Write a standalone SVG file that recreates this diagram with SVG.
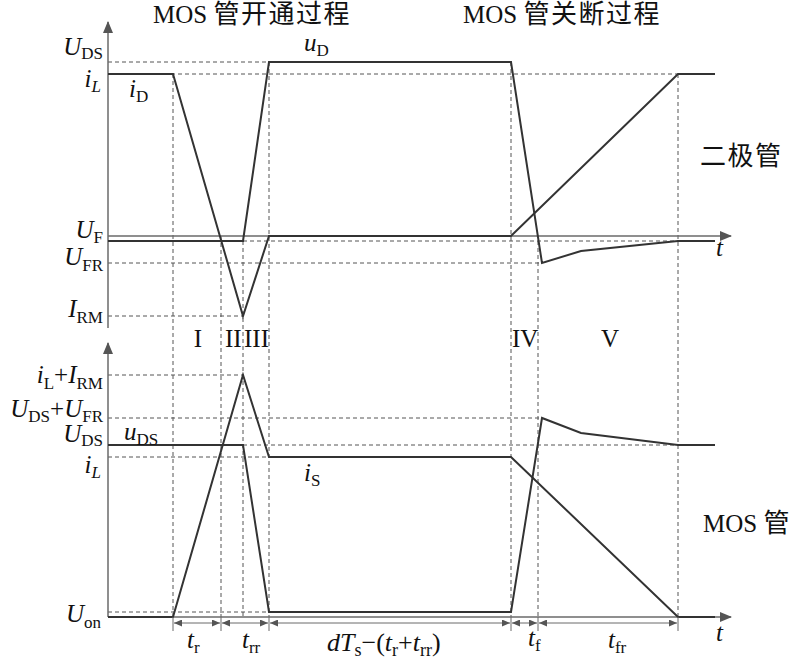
<svg xmlns="http://www.w3.org/2000/svg" width="800" height="669" viewBox="0 0 800 669">
<style>
.curve{fill:none;stroke:#333;stroke-width:2;stroke-linejoin:miter}
.axis{fill:none;stroke:#6a6a6a;stroke-width:1.5}
.dash{fill:none;stroke:#555;stroke-width:1;stroke-dasharray:4 3}
.tick{fill:none;stroke:#6a6a6a;stroke-width:1}
.dim{fill:none;stroke:#6a6a6a;stroke-width:1}
.lbl{font-family:"Liberation Serif","Noto Sans CJK SC",serif;font-size:25px;fill:#111}
.it{font-style:italic}
.sub{font-size:17px;font-style:normal}
.cjk{font-family:"Liberation Serif","Noto Sans CJK SC",sans-serif;font-size:25px;fill:#111}
.han{font-size:26px;letter-spacing:1.5px}
</style>
<defs>
<marker id="axarr" markerWidth="12" markerHeight="10" refX="11" refY="5" orient="auto" markerUnits="userSpaceOnUse">
<path d="M0,0 L12,5 L0,10 Z" fill="#555"/>
</marker>
<marker id="dimarr" markerWidth="8" markerHeight="7" refX="8" refY="3.5" orient="auto-start-reverse" markerUnits="userSpaceOnUse">
<path d="M0,0 L8,3.5 L0,7 Z" fill="#555"/>
</marker>
</defs>
<rect width="800" height="669" fill="#fff"/>

<g id="guides">
<line class="dash" x1="108" y1="62" x2="269" y2="62"/>
<line class="dash" x1="108" y1="74" x2="678" y2="74"/>
<line class="dash" x1="243" y1="241" x2="678" y2="241"/>
<line class="dash" x1="108" y1="263" x2="542" y2="263"/>
<line class="dash" x1="108" y1="316" x2="243" y2="316"/>
<line class="dash" x1="108" y1="375" x2="243" y2="375"/>
<line class="dash" x1="108" y1="418" x2="542" y2="418"/>
<line class="dash" x1="243" y1="445" x2="678" y2="445"/>
<line class="dash" x1="108" y1="457" x2="269" y2="457"/>
<line class="dash" x1="108" y1="612" x2="269" y2="612"/>
<line class="dash" x1="173" y1="74" x2="173" y2="617"/>
<line class="dash" x1="221" y1="236" x2="221" y2="617"/>
<line class="dash" x1="243" y1="241" x2="243" y2="617"/>
<line class="dash" x1="269" y1="62" x2="269" y2="617"/>
<line class="dash" x1="511" y1="62" x2="511" y2="617"/>
<line class="dash" x1="538" y1="241" x2="538" y2="617"/>
<line class="dash" x1="678" y1="74" x2="678" y2="617"/>
</g>

<g id="axes">
<line class="axis" x1="108" y1="328" x2="108" y2="22" marker-end="url(#axarr)"/>
<line class="axis" x1="108" y1="236" x2="731" y2="236" marker-end="url(#axarr)"/>
<line class="axis" x1="108" y1="617" x2="108" y2="343" marker-end="url(#axarr)"/>
<line class="axis" x1="108" y1="617" x2="731" y2="617" marker-end="url(#axarr)"/>
</g>

<g id="connectors">
<path class="curve" d="M108,74 L173,74 L243,316 L269,236 L511,236 L678,74 L715,74"/>
<path class="curve" d="M108,241 L243,241 L269,62 L511,62 L542,263 L581,251 L678,241 L715,241"/>
<path class="curve" d="M108,617 L173,617 L243,375 L269,457 L511,457 L678,617 L715,617"/>
<path class="curve" d="M108,445 L243,445 L269,612 L511,612 L542,418 L581,433 L678,445 L715,445"/>
</g>

<g id="dimensions">
<line class="tick" x1="173" y1="617" x2="173" y2="631"/>
<line class="tick" x1="221" y1="617" x2="221" y2="631"/>
<line class="tick" x1="269" y1="617" x2="269" y2="631"/>
<line class="tick" x1="511" y1="617" x2="511" y2="631"/>
<line class="tick" x1="538" y1="617" x2="538" y2="631"/>
<line class="tick" x1="678" y1="617" x2="678" y2="631"/>
<line class="dim" x1="174" y1="623" x2="220" y2="623" marker-start="url(#dimarr)" marker-end="url(#dimarr)"/>
<line class="dim" x1="222" y1="623" x2="268" y2="623" marker-start="url(#dimarr)" marker-end="url(#dimarr)"/>
<line class="dim" x1="270" y1="623" x2="510" y2="623" marker-start="url(#dimarr)" marker-end="url(#dimarr)"/>
<line class="dim" x1="512" y1="623" x2="537" y2="623" marker-start="url(#dimarr)" marker-end="url(#dimarr)"/>
<line class="dim" x1="539" y1="623" x2="677" y2="623" marker-start="url(#dimarr)" marker-end="url(#dimarr)"/>
</g>

<g id="titles">
<text class="cjk" x="153" y="23">MOS <tspan class="han">管开通过程</tspan></text>
<text class="cjk" x="463" y="23">MOS <tspan class="han">管关断过程</tspan></text>
<text class="cjk" x="700" y="165"><tspan class="han">二极管</tspan></text>
<text class="cjk" x="703" y="532">MOS <tspan class="han">管</tspan></text>
</g>

<g id="axis-labels">
<text class="lbl" x="103" y="55" text-anchor="end"><tspan class="it">U</tspan><tspan class="sub" dy="4">DS</tspan></text>
<text class="lbl" x="101" y="87" text-anchor="end"><tspan class="it">i</tspan><tspan class="sub" dy="5" style="font-style:italic">L</tspan></text>
<text class="lbl" x="103" y="238" text-anchor="end"><tspan class="it">U</tspan><tspan class="sub" dy="5">F</tspan></text>
<text class="lbl" x="103" y="265" text-anchor="end"><tspan class="it">U</tspan><tspan class="sub" dy="6">FR</tspan></text>
<text class="lbl" x="103" y="317" text-anchor="end"><tspan class="it">I</tspan><tspan class="sub" dy="6">RM</tspan></text>
<text class="lbl" x="103" y="383" text-anchor="end"><tspan class="it">i</tspan><tspan class="sub" dy="6">L</tspan><tspan dy="-6">+</tspan><tspan class="it">I</tspan><tspan class="sub" dy="6">RM</tspan></text>
<text class="lbl" x="103" y="417" text-anchor="end"><tspan class="it">U</tspan><tspan class="sub" dy="5">DS</tspan><tspan dy="-5">+</tspan><tspan class="it">U</tspan><tspan class="sub" dy="5">FR</tspan></text>
<text class="lbl" x="103" y="442" text-anchor="end"><tspan class="it">U</tspan><tspan class="sub" dy="4">DS</tspan></text>
<text class="lbl" x="101" y="473" text-anchor="end"><tspan class="it">i</tspan><tspan class="sub" dy="5" style="font-style:italic">L</tspan></text>
<text class="lbl" x="101" y="622" text-anchor="end"><tspan class="it">U</tspan><tspan class="sub" dy="6">on</tspan></text>
<text class="lbl it" x="716" y="256">t</text>
<text class="lbl it" x="716" y="641">t</text>
</g>

<g id="curve-labels">
<text class="lbl" x="304" y="51"><tspan class="it">u</tspan><tspan class="sub" dy="5">D</tspan></text>
<text class="lbl" x="129" y="97"><tspan class="it">i</tspan><tspan class="sub" dy="5">D</tspan></text>
<text class="lbl" x="124" y="440"><tspan class="it">u</tspan><tspan class="sub" dy="5">DS</tspan></text>
<text class="lbl" x="304" y="481"><tspan class="it">i</tspan><tspan class="sub" dy="5">S</tspan></text>
</g>

<g id="phase-labels">
<text class="lbl" x="198" y="347" text-anchor="middle">I</text>
<text class="lbl" x="225" y="347">II</text>
<text class="lbl" x="244" y="347">III</text>
<text class="lbl" x="512" y="347">IV</text>
<text class="lbl" x="601" y="347">V</text>
</g>

<g id="time-labels">
<text class="lbl" x="187" y="648"><tspan class="it">t</tspan><tspan class="sub" dy="5">r</tspan></text>
<text class="lbl" x="242" y="648"><tspan class="it">t</tspan><tspan class="sub" dy="5">rr</tspan></text>
<text class="lbl" x="327" y="651" style="font-size:26px"><tspan class="it">dT</tspan><tspan class="sub" dy="5" style="font-size:18px">s</tspan><tspan dy="-5">−(</tspan><tspan class="it">t</tspan><tspan class="sub" dy="5" style="font-size:18px">r</tspan><tspan dy="-5">+</tspan><tspan class="it">t</tspan><tspan class="sub" dy="5" style="font-size:18px">rr</tspan><tspan dy="-5">)</tspan></text>
<text class="lbl" x="528" y="646"><tspan class="it">t</tspan><tspan class="sub" dy="5">f</tspan></text>
<text class="lbl" x="608" y="648"><tspan class="it">t</tspan><tspan class="sub" dy="5">fr</tspan></text>
</g>
</svg>
